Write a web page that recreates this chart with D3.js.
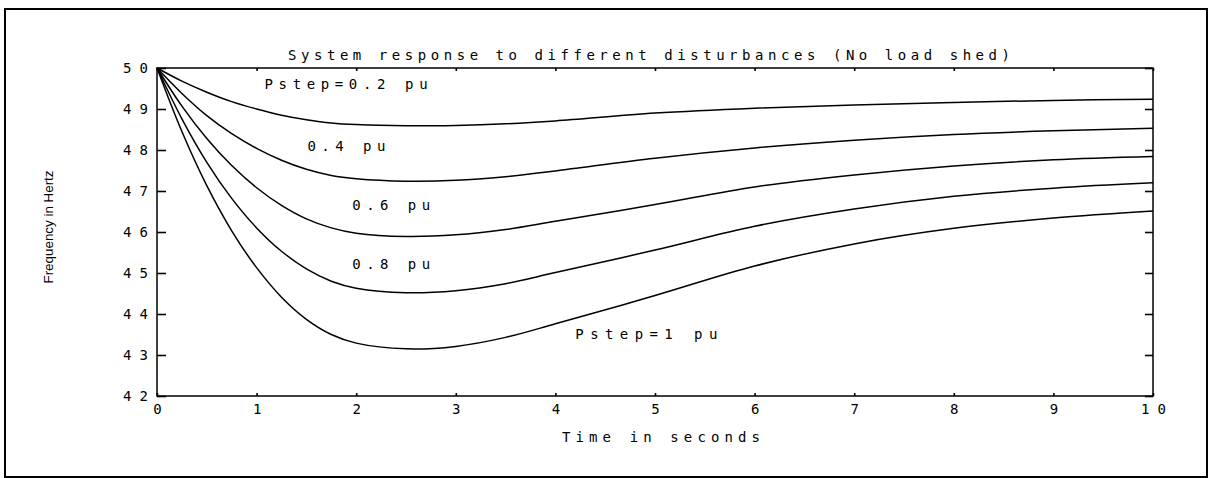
<!DOCTYPE html>
<html>
<head>
<meta charset="utf-8">
<script src="https://cdn.jsdelivr.net/npm/d3@7"></script>
<style>
  html, body { margin: 0; padding: 0; background: #fff; }
  svg { display: block; }
  text { font-family: "DejaVu Sans Mono", monospace; fill: #000; }
</style>
</head>
<body>
<svg id="chart" width="1215" height="478"></svg>
<script>
// Simulated frequency response for several load steps (no load shedding)
const timeS   = [0, 0.25, 0.5, 0.75, 1, 1.25, 1.5, 1.75, 2, 2.5, 3, 3.5, 4, 5, 6, 7, 8, 9, 10];
const freqP02 = [50, 49.68, 49.41, 49.18, 49.00, 48.85, 48.74, 48.66, 48.62, 48.59, 48.60, 48.64, 48.71, 48.90, 49.02, 49.10, 49.16, 49.21, 49.24];
const freqP04 = [50, 49.38, 48.84, 48.40, 48.04, 47.75, 47.53, 47.38, 47.30, 47.24, 47.26, 47.35, 47.49, 47.80, 48.05, 48.24, 48.38, 48.47, 48.53];
const freqP06 = [50, 49.07, 48.28, 47.62, 47.08, 46.65, 46.32, 46.10, 45.97, 45.89, 45.93, 46.06, 46.26, 46.67, 47.10, 47.39, 47.61, 47.76, 47.84];
const freqP08 = [50, 48.76, 47.70, 46.82, 46.10, 45.53, 45.10, 44.80, 44.63, 44.52, 44.57, 44.74, 45.01, 45.56, 46.14, 46.56, 46.87, 47.07, 47.20];
const freqP10 = [50, 48.45, 47.13, 46.03, 45.13, 44.41, 43.87, 43.50, 43.29, 43.15, 43.21, 43.43, 43.76, 44.45, 45.17, 45.71, 46.09, 46.34, 46.51];
const seriesNames = ["Pstep=0.2 pu", "0.4 pu", "0.6 pu", "0.8 pu", "Pstep=1 pu"];
const xTicks = [0, 1, 2, 3, 4, 5, 6, 7, 8, 9, 10];
const yTicks = [42, 43, 44, 45, 46, 47, 48, 49, 50];
const titleText = "System response to different disturbances (No load shed)";
const xTitle = "Time in seconds";
const yTitle = "Frequency in Hertz";

const series = [freqP02, freqP04, freqP06, freqP08, freqP10];

const svg = d3.select("#chart");

// page frame
svg.append("rect")
  .attr("x", 5).attr("y", 9).attr("width", 1202).attr("height", 468)
  .attr("fill", "none").attr("stroke", "#000").attr("stroke-width", 2);

const x = d3.scaleLinear().domain([0, 10]).range([157, 1153]);
const y = d3.scaleLinear().domain([42, 50]).range([396, 68]);

// plot box
svg.append("rect")
  .attr("x", x(0)).attr("y", y(50))
  .attr("width", x(10) - x(0)).attr("height", y(42) - y(50))
  .attr("fill", "none").attr("stroke", "#000").attr("stroke-width", 1.5);

const tickStyle = g => {
  g.select(".domain").remove();
  g.selectAll(".tick line").attr("stroke", "#000").attr("stroke-width", 1.6);
};

// left axis with labels
svg.append("g")
  .attr("transform", `translate(${x(0)},0)`)
  .call(d3.axisLeft(y).tickValues(yTicks).tickFormat(d3.format("d"))
    .tickSizeInner(-9).tickSizeOuter(0).tickPadding(9))
  .call(tickStyle)
  .call(g => g.selectAll(".tick text")
    .attr("font-size", 14).attr("font-family", "DejaVu Sans Mono")
    .attr("textLength", 25).attr("lengthAdjust", "spacing"));

// right axis ticks
svg.append("g")
  .attr("transform", `translate(${x(10)},0)`)
  .call(d3.axisRight(y).tickValues(yTicks).tickFormat("")
    .tickSizeInner(-8).tickSizeOuter(0))
  .call(tickStyle);

// bottom axis with labels
svg.append("g")
  .attr("transform", `translate(0,${y(42)})`)
  .call(d3.axisBottom(x).tickValues(xTicks).tickFormat(d3.format("d"))
    .tickSizeInner(-3).tickSizeOuter(0).tickPadding(8))
  .call(tickStyle)
  .call(g => g.selectAll(".tick text")
    .attr("font-size", 14).attr("font-family", "DejaVu Sans Mono")
    .each(function (d) {
      if (String(d).length > 1) d3.select(this).attr("textLength", 25).attr("lengthAdjust", "spacing");
    }));

// top axis ticks
svg.append("g")
  .attr("transform", `translate(0,${y(50)})`)
  .call(d3.axisTop(x).tickValues(xTicks).tickFormat("")
    .tickSizeInner(-3).tickSizeOuter(0))
  .call(tickStyle);

// response curves
const line = d3.line()
  .x((d, i) => x(timeS[i]))
  .y(d => y(d))
  .curve(d3.curveCatmullRom.alpha(0.5));

svg.append("g").selectAll("path")
  .data(series)
  .join("path")
  .attr("d", line)
  .attr("fill", "none")
  .attr("stroke", "#000")
  .attr("stroke-width", 1.5);

// curve annotations, placed in data units
const labelPlaces = [
  { t: 1.08, f: 49.49, w: 163 },
  { t: 1.51, f: 47.98, w: 78 },
  { t: 1.96, f: 46.54, w: 78 },
  { t: 1.96, f: 45.10, w: 78 },
  { t: 4.20, f: 43.39, w: 142 }
];
svg.append("g").selectAll("text")
  .data(seriesNames)
  .join("text")
  .attr("x", (d, i) => x(labelPlaces[i].t))
  .attr("y", (d, i) => y(labelPlaces[i].f))
  .attr("font-size", 14)
  .attr("textLength", (d, i) => labelPlaces[i].w)
  .attr("lengthAdjust", "spacing")
  .text(d => d);

// title
svg.append("text")
  .attr("x", 288).attr("y", 60)
  .attr("font-size", 14)
  .attr("textLength", 722).attr("lengthAdjust", "spacing")
  .text(titleText);

// x axis title
svg.append("text")
  .attr("x", 562).attr("y", 442)
  .attr("font-size", 14)
  .attr("textLength", 198).attr("lengthAdjust", "spacing")
  .text(xTitle);

// y axis title
svg.append("text")
  .attr("transform", "translate(53,227) rotate(-90)")
  .attr("text-anchor", "middle")
  .style("font-family", "'Liberation Sans Narrow', 'Liberation Sans', sans-serif")
  .attr("font-size", 13)
  .attr("textLength", 113).attr("lengthAdjust", "spacingAndGlyphs")
  .text(yTitle);
</script>
</body>
</html>
